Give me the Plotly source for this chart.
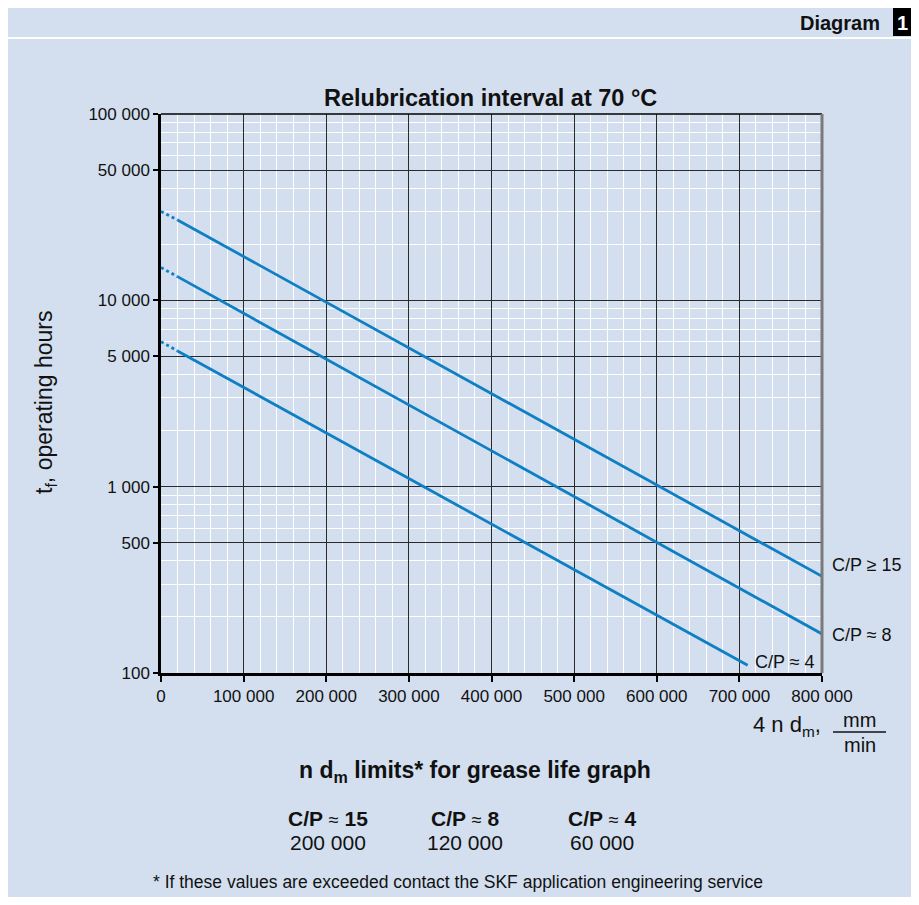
import math
import plotly.graph_objects as go

# chart data
x_end = [800000, 800000, 710000]
curves = ["C/P ≥ 15", "C/P ≈ 8", "C/P ≈ 4"]
hours_start = [30000, 15000, 6000]
hours_dot_end = [27000, 13400, 5350]
hours_end = [330, 162, 110]
x_dot_end = 20000

y_tickvals = [100, 500, 1000, 5000, 10000, 50000, 100000]
y_ticktext = ["100", "500", "1 000", "5 000", "10 000", "50 000", "100 000"]
x_tickvals = [0, 100000, 200000, 300000, 400000, 500000, 600000, 700000, 800000]
x_ticktext = ["0", "100 000", "200 000", "300 000", "400 000", "500 000",
              "600 000", "700 000", "800 000"]

approx = "<span style='font-size:18px;font-weight:normal'>≈</span>"
limit_labels = ["<b>C/P</b> " + approx + " <b>15</b>",
                "<b>C/P</b> " + approx + " <b>8</b>",
                "<b>C/P</b> " + approx + " <b>4</b>"]
limit_values = ["200 000", "120 000", "60 000"]

BG = "#d3dfef"
BLUE = "#0f7fc3"
FONT = "Liberation Sans, Arial, sans-serif"

# the page body adds an 8 px margin all round, so the figure is
# 16 px smaller than the window and placed 8 px in
OFF = 8
W, H = 919 - 2 * OFF, 905 - 2 * OFF
L, T = 161 - OFF, 114 - OFF
R = W - (822 - OFF)
B = H - (673 - OFF)


def px(x):
    return (x - OFF - L) / (W - L - R)


def py(y):
    return (H - B - (y - OFF)) / (H - T - B)


# minor grid positions
x_minor = [v for v in range(20000, 800000, 20000) if v % 100000]
y_minor = []
for d in [100, 1000, 10000]:
    for m in [2, 3, 4, 6, 7, 8, 9]:
        y_minor.append(m * d)

fig = go.Figure()

for i, name in enumerate(curves):
    fig.add_trace(go.Scatter(
        x=[0, x_dot_end], y=[hours_start[i], hours_dot_end[i]],
        mode="lines", line=dict(color=BLUE, width=2.8, dash="dot"),
        showlegend=False, hoverinfo="skip"))
    fig.add_trace(go.Scatter(
        x=[x_dot_end, x_end[i]], y=[hours_dot_end[i], hours_end[i]],
        mode="lines", line=dict(color=BLUE, width=2.8),
        name=name, showlegend=False))

# curve labels (log axis: annotation y is the exponent)
label_dx = [8, 8, 5]
label_dy = [11, -1, 3]
for i, name in enumerate(curves):
    fig.add_annotation(x=x_end[i], y=math.log10(hours_end[i]), xref="x", yref="y",
                       text=name, showarrow=False, xanchor="left",
                       xshift=label_dx[i], yshift=label_dy[i],
                       font=dict(size=18, color="#111", family=FONT))

fig.update_xaxes(
    range=[0, 800000], tickvals=x_tickvals, ticktext=x_ticktext,
    showgrid=True, gridcolor="#2a2a2a", gridwidth=1.2,
    minor=dict(tickvals=x_minor, showgrid=True, gridcolor="white", gridwidth=1.3),
    showline=True, linecolor="black", linewidth=3,
    ticks="outside", ticklen=6, tickwidth=2, tickcolor="black",
    tickfont=dict(size=17, color="#111", family=FONT), zeroline=False)
fig.update_yaxes(
    type="log", range=[2, 5], tickvals=y_tickvals, ticktext=y_ticktext,
    showgrid=True, gridcolor="#2a2a2a", gridwidth=1.2,
    minor=dict(tickvals=y_minor, showgrid=True, gridcolor="white", gridwidth=1.3),
    showline=True, linecolor="black", linewidth=2.5,
    ticks="outside", ticklen=5, tickwidth=2, tickcolor="black",
    tickfont=dict(size=17, color="#111", family=FONT), zeroline=False)

shapes = [
    # plot frame top and right
    dict(type="line", xref="paper", yref="paper", x0=0, x1=1, y0=1, y1=1,
         line=dict(color="black", width=1.5)),
    dict(type="line", xref="paper", yref="paper", x0=1, x1=1, y0=0, y1=1,
         line=dict(color="#7a7a7a", width=3)),
    # header separator and number box
    dict(type="rect", xref="paper", yref="paper", x0=px(0), x1=px(930), y0=py(39), y1=py(37),
         fillcolor="white", line=dict(width=0), layer="below"),
    dict(type="rect", xref="paper", yref="paper", x0=px(893), x1=px(930), y0=py(36), y1=py(0),
         fillcolor="black", line=dict(width=0)),
    # fraction bar of the x unit
    dict(type="line", xref="paper", yref="paper", x0=px(833), x1=px(886), y0=py(732), y1=py(732),
         line=dict(color="#111", width=1.5)),
]

texts = [
    (882, 23, "<b>Diagram</b>", 20, "right", "#111", 0),
    (902, 23, "<b>1</b>", 20, "center", "white", 0),
    (490, 98, "<b>Relubrication interval at 70 °C</b>", 23.5, "center", "#111", 0),
    (45, 402, "t<sub>f</sub>, operating hours", 23, "center", "#111", -90),
    (787, 726, "4 n d<sub>m</sub>,", 22, "center", "#111", 0),
    (860, 720, "mm", 20, "center", "#111", 0),
    (860, 745, "min", 20, "center", "#111", 0),
    (475, 771, "<b>n d<sub>m</sub> limits* for grease life graph</b>", 23, "center", "#111", 0),
    (458, 882, "* If these values are exceeded contact the SKF application engineering service",
     17.5, "center", "#111", 0),
]
limit_x = [328, 465, 602]
for i in range(3):
    texts.append((limit_x[i], 818, limit_labels[i], 21, "center", "#111", 0))
    texts.append((limit_x[i], 842, limit_values[i], 21, "center", "#111", 0))

for x, y, t, s, anchor, col, ang in texts:
    fig.add_annotation(x=px(x), y=py(y), xref="paper", yref="paper", text=t,
                       showarrow=False, xanchor=anchor, yanchor="middle",
                       textangle=ang, font=dict(size=s, color=col, family=FONT))

fig.update_layout(
    width=W, height=H, margin=dict(l=L, r=R, t=T, b=B),
    paper_bgcolor=BG, plot_bgcolor=BG, shapes=shapes,
    font=dict(family=FONT, color="#111"), showlegend=False)

fig.write_html("out.html")
